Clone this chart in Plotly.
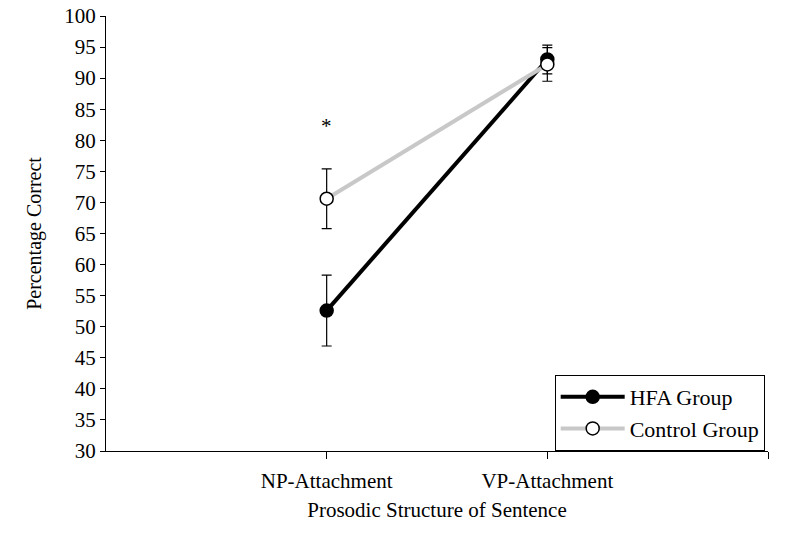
import plotly.graph_objects as go

categories = ["NP-Attachment", "VP-Attachment"]
hfa_values = [52.6, 93.0]
hfa_err = [5.7, 2.3]
control_values = [70.6, 92.2]
control_err = [4.8, 2.7]
y_ticks = list(range(30, 101, 5))
star_value = 82.3

xpos = [i + 1 for i in range(len(categories))]
font = "Liberation Serif, Times New Roman, serif"

fig = go.Figure()
fig.add_trace(go.Scatter(
    x=xpos, y=hfa_values, name="HFA Group", mode="lines+markers",
    line=dict(color="black", width=4),
    marker=dict(color="black", size=13, line=dict(color="black", width=1.5)),
    error_y=dict(type="data", array=hfa_err, color="black", thickness=1.2, width=5),
))
fig.add_trace(go.Scatter(
    x=xpos, y=control_values, name="Control Group", mode="lines+markers",
    line=dict(color="#c8c8c8", width=4),
    marker=dict(color="white", size=13, line=dict(color="black", width=1.5)),
    error_y=dict(type="data", array=control_err, color="black", thickness=1.2, width=5),
))
fig.add_annotation(x=xpos[0], y=star_value, text="*", showarrow=False,
                   font=dict(family=font, size=21, color="black"))

fig.update_layout(
    width=791, height=537,
    margin=dict(l=106, r=23, t=16, b=86, autoexpand=False),
    plot_bgcolor="white", paper_bgcolor="white",
    font=dict(family=font, size=21, color="black"),
    showlegend=True,
    legend=dict(x=0.995, y=0, xanchor="right", yanchor="bottom",
                bordercolor="black", borderwidth=1, bgcolor="white",
                font=dict(size=22), itemwidth=64,
                tracegroupgap=0),
    xaxis=dict(range=[0, 3], tickvals=xpos + [3], ticktext=categories + [""],
               showline=True, linecolor="black", linewidth=1.2,
               ticks="outside", ticklen=7, tickcolor="black",
               showgrid=False, zeroline=False, ticklabelstandoff=4,
               automargin=False, ticklabeloverflow="allow",
               title=dict(text="Prosodic Structure of Sentence", standoff=10,
                          font=dict(size=21))),
    yaxis=dict(range=[30, 100], tickvals=y_ticks,
               showline=True, linecolor="black", linewidth=1.2,
               ticks="outside", ticklen=5, tickcolor="black",
               showgrid=False, zeroline=False, automargin=False,
               ticklabeloverflow="allow",
               title=dict(text="Percentage Correct", standoff=17,
                          font=dict(size=20))),
)
fig.write_html("out.html", config={"displayModeBar": False},
               post_script="document.body.style.margin='0';document.body.style.overflow='hidden';")
